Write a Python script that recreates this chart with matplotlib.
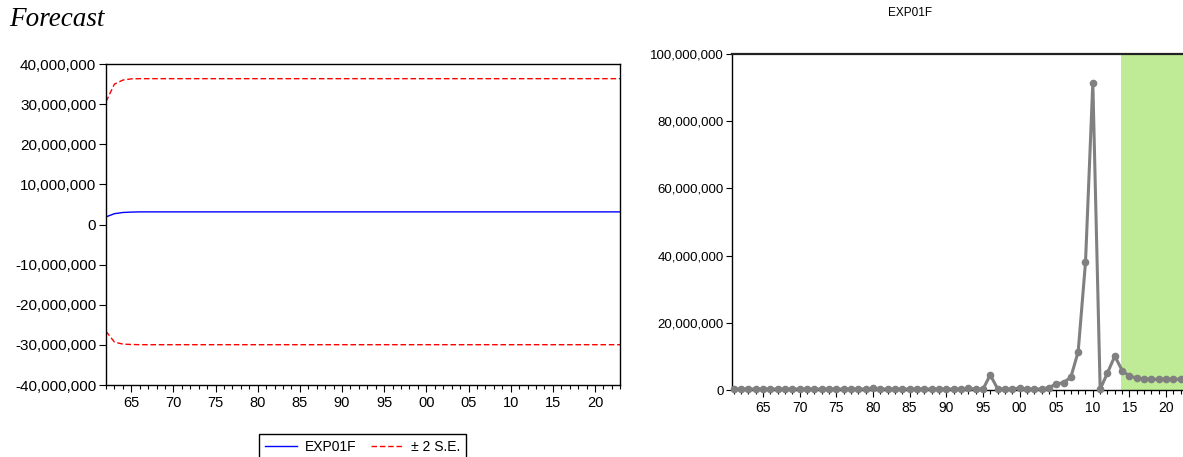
import matplotlib.pyplot as plt
import numpy as np
from matplotlib.ticker import FuncFormatter, MultipleLocator

# left panel: forecast and +/- 2 S.E. band (millions), 1962-2023
fc_years = np.arange(1962, 2024)
forecast = [1.9, 2.7, 3.0, 3.1] + [3.15] * 58
upper = [30.6, 35.0, 36.0, 36.3] + [36.35] * 58
lower = [-26.6, -29.3, -29.8, -29.9] + [-29.95] * 58

# right panel: actual series EXP01F (millions), 1961-2023
act_years = np.arange(1961, 2024)
exp01f = ([0.3] * 19 + [0.5] + [0.3] * 12 + [0.5, 0.3]  # 1961-1994
          + [0.2, 4.5, 0.4, 0.3, 0.3, 0.6, 0.3, 0.3, 0.3, 0.7,  # 1995-2004
             1.8, 2.2, 3.8, 11.4, 38.0, 91.5, 0.2, 5.1, 10.1, 5.8,  # 2005-2014
             4.1, 3.6, 3.3, 3.2, 3.2, 3.2, 3.2, 3.2, 3.2])  # 2015-2023
shade_start = 2014

font = 'Liberation Sans'
plt.rcParams['font.family'] = [font, 'DejaVu Sans']

fig = plt.figure(figsize=(11.83, 4.57), dpi=100)

comma = FuncFormatter(lambda v, p: '{:,.0f}'.format(v))
yy = FuncFormatter(lambda v, p: '%02d' % (int(round(v)) % 100))

# ---- left chart
ax1 = fig.add_axes([0.0896, 0.1575, 0.4347, 0.7024])
ax1.plot(fc_years, np.array(forecast) * 1e6, color='#0000ff', lw=1.0, label='EXP01F')
ax1.plot(fc_years, np.array(upper) * 1e6, color='#ff0000', lw=1.0, ls=(0, (4, 2)), label='\u00b1 2 S.E.')
ax1.plot(fc_years, np.array(lower) * 1e6, color='#ff0000', lw=1.0, ls=(0, (4, 2)))
ax1.set_xlim(1962, 2023)
ax1.set_ylim(-40e6, 40e6)
ax1.yaxis.set_major_locator(MultipleLocator(10e6))
ax1.yaxis.set_major_formatter(comma)
ax1.xaxis.set_major_locator(MultipleLocator(5))
ax1.xaxis.set_minor_locator(MultipleLocator(1))
ax1.xaxis.set_major_formatter(yy)
ax1.tick_params(axis='y', direction='out', length=5, width=0.8, labelsize=11, pad=2)
ax1.tick_params(axis='x', which='major', direction='out', length=5, width=0.8, labelsize=10.5, pad=3)
ax1.tick_params(axis='x', which='minor', direction='out', length=3, width=0.8)
for s in ax1.spines.values():
    s.set_linewidth(1.0)

fig.text(0.008, 0.957, 'Forecast', fontsize=19.5, style='italic',
         family=['Liberation Serif', 'DejaVu Serif'], va='center', ha='left')

leg = fig.legend(loc='upper center', bbox_to_anchor=(0.3065, 1 - 434 / 457), ncol=2,
                 frameon=True, fancybox=False, edgecolor='black', framealpha=1,
                 fontsize=10, handlelength=2.3, columnspacing=1.0, handletextpad=0.6,
                 borderpad=0.4, borderaxespad=0)
leg.get_frame().set_linewidth(1.0)

# ---- right chart
ax2 = fig.add_axes([0.619, 0.1466, 0.3915, 0.7352])
ax2.axvspan(shade_start - 0.15, 2024.5, color='#bfea96', lw=0, zorder=0)
ax2.plot(act_years, np.array(exp01f) * 1e6, color='#808080', lw=2.2,
         marker='o', markersize=4.5, zorder=3, clip_on=False)
ax2.set_xlim(1960.8, 2024)
ax2.set_ylim(0, 100e6)
ax2.yaxis.set_major_locator(MultipleLocator(20e6))
ax2.yaxis.set_major_formatter(comma)
ax2.xaxis.set_major_locator(MultipleLocator(5))
ax2.xaxis.set_minor_locator(MultipleLocator(1))
ax2.xaxis.set_major_formatter(yy)
ax2.tick_params(axis='y', direction='out', length=4, width=0.8, labelsize=9.5, pad=2)
ax2.tick_params(axis='x', which='major', direction='out', length=5, width=0.8, labelsize=10, pad=3)
ax2.tick_params(axis='x', which='minor', direction='out', length=3, width=0.8)
ax2.spines['right'].set_visible(False)
ax2.spines['top'].set_linewidth(1.6)
ax2.spines['top'].set_color('#222222')
ax2.spines['left'].set_linewidth(1.0)
ax2.spines['bottom'].set_linewidth(1.0)

fig.text(910 / 1183, 1 - 13 / 457, 'EXP01F', fontsize=8.5, ha='center', va='center')

fig.savefig('out.png', dpi=100)
